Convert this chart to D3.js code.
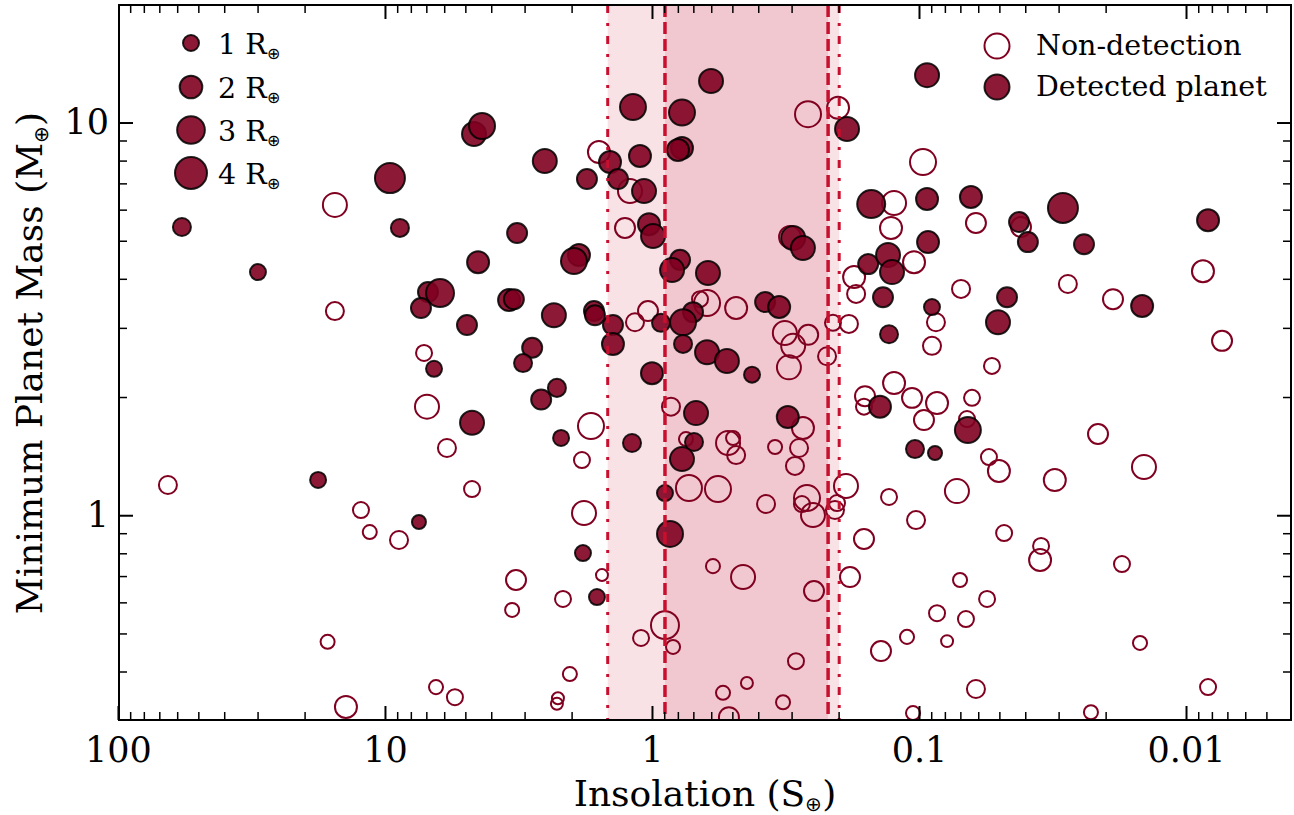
<!DOCTYPE html>
<html><head><meta charset="utf-8">
<script src="https://cdn.jsdelivr.net/npm/d3@7"></script>
<style>
body{margin:0;background:#fff}
svg{display:block}
text{font-family:"DejaVu Serif",serif;fill:#000}
</style>
</head><body>
<svg id="chart" width="1294" height="815"></svg>
<script>
// ---- data (insolation in S_earth, minimum mass in M_earth, radius in R_earth) ----
const detInsolation = [4.64,4.33,9.58,57.6,8.79,3.20,29.9,4.48,6.90,6.22,7.33,4.93,3.43,3.29,6.55,4.72,17.8,7.46,1.178,0.772,0.186,0.772,0.799,2.52,1.109,1.436,1.752,1.341,1.071,0.151,1.026,0.991,1.877,1.96,0.296,0.272,0.155,0.1306,0.1262,0.1364,0.785,0.841,0.617,2.33,1.649,1.635,0.702,0.377,0.334,1.40,0.925,0.765,1.40,2.81,3.04,0.765,0.622,0.524,0.422,1.0,2.27,2.60,0.1295,0.140,2.19,1.188,0.684,0.310,0.696,0.772,0.894,0.856,1.813,1.607,0.601,0.0933,0.0933,0.0639,0.0422,0.0391,0.0289,0.00827,0.0241,0.0925,0.0146,0.0468,0.0506,0.0894,0.0656,0.1035,0.0871];
const detMass = [9.35,9.80,7.22,5.42,5.39,5.23,4.16,4.41,3.70,3.68,3.37,3.05,3.53,3.55,2.36,1.72,1.23,0.961,10.95,10.6,9.63,8.61,8.51,7.98,8.22,7.93,7.18,7.18,6.69,6.20,5.51,5.14,4.60,4.44,5.08,4.79,4.36,4.60,4.16,3.59,4.47,4.21,4.14,3.23,3.31,3.23,3.29,3.49,3.39,3.05,3.09,3.10,2.73,2.67,2.44,2.73,2.60,2.47,2.28,2.30,2.11,1.97,2.89,1.89,1.573,1.527,1.82,1.778,1.536,1.39,1.139,0.896,0.801,0.619,12.76,13.2,6.39,6.46,5.58,4.96,6.06,5.64,4.90,4.96,3.41,3.59,3.10,3.39,1.648,1.474,1.44];
const detRadius = [2.25,2.64,3.52,1.27,1.27,1.56,1.0,1.89,1.56,3.06,1.56,1.56,1.89,1.56,1.0,2.25,1.0,0.77,2.64,2.64,2.25,1.89,1.89,2.25,1.89,1.89,1.56,1.56,2.25,3.06,1.89,2.25,1.89,2.64,2.25,2.25,1.56,2.25,2.25,1.56,1.56,2.25,2.25,2.25,1.56,1.56,1.56,1.56,1.89,1.56,1.27,2.64,1.89,1.56,1.27,1.27,2.25,2.25,1.0,1.89,1.27,1.56,1.27,1.89,1.0,1.27,2.25,1.89,1.27,2.25,1.0,2.64,1.0,1.0,2.25,2.25,1.89,1.89,1.56,1.56,3.52,1.89,1.56,1.89,1.89,1.56,2.25,1.0,2.64,1.27,0.77];

const ndInsolation = [15.4,15.4,7.14,6.96,65.0,5.86,4.72,12.3,11.4,8.86,3.23,3.34,16.4,6.44,5.47,14.0,0.2604,0.201,1.58,1.209,0.124,0.1273,1.262,0.304,0.175,0.172,0.661,0.622,0.484,1.035,1.158,0.318,0.296,0.260,0.307,0.210,0.183,0.221,1.692,1.829,0.849,0.272,0.746,0.519,0.497,0.484,0.346,0.2814,0.2914,0.727,0.566,0.374,0.2627,0.2744,0.2495,0.2064,0.2028,0.1877,0.1295,0.1593,0.1607,0.124,1.797,1.539,2.154,0.591,0.456,0.2473,0.1813,0.1607,0.894,1.099,0.834,0.2889,0.1388,2.03,2.25,2.27,0.542,0.441,0.323,0.515,0.0966,0.0612,0.0415,0.1044,0.00864,0.0696,0.0277,0.01877,0.0864,0.0894,0.00733,0.0533,0.1062,0.0856,0.0633,0.0958,0.0661,0.0547,0.0502,0.02136,0.01437,0.0310,0.0721,0.1026,0.0480,0.0349,0.0352,0.01737,0.0702,0.0556,0.0856,0.0667,0.1109,0.0785,0.01487,0.0612,0.00827,0.1053,0.0227];
const ndMass = [6.17,3.31,2.59,1.89,1.194,1.483,1.166,1.031,0.906,0.865,0.684,0.574,0.476,0.365,0.344,0.325,10.5,10.9,8.41,6.69,6.24,5.39,5.39,5.11,4.04,3.66,3.55,3.47,3.37,3.31,3.10,2.91,2.70,2.88,2.38,3.09,3.07,2.54,1.687,1.382,1.89,1.668,1.563,1.527,1.573,1.423,1.492,1.483,1.335,1.173,1.166,1.068,1.106,1.068,1.001,1.031,1.074,1.187,1.113,2.01,1.89,2.17,1.013,0.704,0.612,0.742,0.696,0.641,0.696,0.870,0.525,0.487,0.462,0.425,0.451,0.394,0.342,0.331,0.353,0.374,0.334,0.306,7.93,5.55,5.42,4.41,4.18,3.77,3.88,3.55,3.10,2.70,2.78,2.40,1.99,1.93,1.99,1.747,1.758,1.406,1.296,1.61,1.327,1.229,1.152,0.972,0.901,0.835,0.769,0.751,0.684,0.612,0.563,0.544,0.490,0.478,0.473,0.361,0.365,0.3135,0.315];
const ndRadius = [2.25,1.27,1.0,2.25,1.27,1.27,1.0,1.0,0.77,1.27,1.56,0.77,0.77,0.77,1.0,1.89,2.64,1.89,1.89,2.25,2.25,1.89,1.56,1.89,1.89,1.27,1.0,2.64,1.89,1.56,1.27,2.25,2.25,1.56,2.25,1.0,1.27,1.27,2.64,1.0,1.27,1.89,0.77,2.25,0.77,1.27,0.77,1.27,1.27,2.64,2.64,1.27,2.64,1.0,2.25,1.27,1.0,2.25,1.0,1.56,1.0,1.89,2.25,0.56,1.0,0.77,2.25,1.56,1.56,1.56,3.06,1.0,0.77,1.0,1.56,0.77,0.56,0.56,0.77,0.56,0.77,1.56,2.64,1.56,1.56,1.89,1.89,1.27,1.27,1.56,1.27,1.27,1.56,1.0,1.56,1.89,1.0,1.56,1.0,1.0,1.89,1.56,2.25,1.89,2.25,1.27,1.0,1.0,1.89,1.0,0.77,1.0,1.0,1.0,0.77,0.56,0.77,1.27,1.0,0.77,0.77];

const xTickValues = [100, 10, 1, 0.1, 0.01];
const xTickLabels = ["100", "10", "1", "0.1", "0.01"];
const yTickValues = [1, 10];
const yTickLabels = ["1", "10"];
const hzOptimistic = [1.465, 0.199];    // dash-dot limits
const hzConservative = [0.894, 0.219];  // dashed limits
const legendSizes = [1, 2, 3, 4];

// ---- layout ----
const svg = d3.select("#chart");
const L = 119, R = 1291, T = 5, B = 720;
const x = d3.scaleLog().domain([99.1, 0.004044]).range([L, R]);
const y = d3.scaleLog().domain([0.301, 19.92]).range([B, T]);
const rs = d3.scaleSqrt().domain([0, 4]).range([0, 16]);

const red = "#c8102e";
const wine = "#800020";

svg.append("defs").append("clipPath").attr("id", "clip")
  .append("rect").attr("x", L).attr("y", T).attr("width", R - L).attr("height", B - T);

// HZ shading
const plot = svg.append("g").attr("clip-path", "url(#clip)");
plot.append("rect").attr("x", x(hzOptimistic[0])).attr("y", T)
  .attr("width", x(hzOptimistic[1]) - x(hzOptimistic[0])).attr("height", B - T)
  .attr("fill", red).attr("fill-opacity", 0.12);
plot.append("rect").attr("x", x(hzConservative[0])).attr("y", T)
  .attr("width", x(hzConservative[1]) - x(hzConservative[0])).attr("height", B - T)
  .attr("fill", red).attr("fill-opacity", 0.12);

// points
const nd = ndInsolation.map((s, i) => ({s, m: ndMass[i], r: ndRadius[i]}));
const det = detInsolation.map((s, i) => ({s, m: detMass[i], r: detRadius[i]}));
plot.selectAll("circle.nd").data(nd).join("circle").attr("class", "nd")
  .attr("cx", d => x(d.s)).attr("cy", d => y(d.m)).attr("r", d => rs(d.r))
  .attr("fill", "none").attr("stroke", wine).attr("stroke-width", 2);
plot.selectAll("circle.det").data(det).join("circle").attr("class", "det")
  .attr("cx", d => x(d.s)).attr("cy", d => y(d.m)).attr("r", d => rs(d.r))
  .attr("fill", wine).attr("fill-opacity", 0.9)
  .attr("stroke", "#000").attr("stroke-opacity", 0.85).attr("stroke-width", 2);

// HZ lines
hzConservative.forEach(v => plot.append("line").attr("x1", x(v)).attr("x2", x(v)).attr("y1", T).attr("y2", B)
  .attr("stroke", red).attr("stroke-width", 3.5).attr("stroke-dasharray", "12,5"));
hzOptimistic.forEach(v => plot.append("line").attr("x1", x(v)).attr("x2", x(v)).attr("y1", T).attr("y2", B)
  .attr("stroke", red).attr("stroke-width", 3).attr("stroke-dasharray", "8,10,3,10"));

// ---- axes ----
function minorTicks(domain) {
  const lo = Math.min(...domain), hi = Math.max(...domain), out = [];
  for (let e = -4; e <= 3; e++) for (let k = 2; k <= 9; k++) {
    const v = k * Math.pow(10, e); if (v >= lo && v <= hi) out.push(v);
  }
  return out;
}
const fs = 35;
function styleAxis(g, w) {
  g.select(".domain").remove();
  g.selectAll(".tick line").attr("stroke", "#000").attr("stroke-width", w);
  g.selectAll("text").attr("font-family", "DejaVu Serif").attr("font-size", fs).attr("fill", "#000");
}
svg.append("g").attr("transform", `translate(0,${B})`)
  .call(d3.axisBottom(x).tickValues(xTickValues).tickSize(-14).tickPadding(17)
    .tickFormat((d, i) => xTickLabels[i])).call(g => styleAxis(g, 2));
svg.append("g").attr("transform", `translate(0,${B})`)
  .call(d3.axisBottom(x).tickValues(minorTicks(x.domain())).tickSize(-8).tickFormat(""))
  .call(g => styleAxis(g, 1.5));
svg.append("g").attr("transform", `translate(0,${T})`)
  .call(d3.axisTop(x).tickValues(xTickValues.filter(v => v < 99.1)).tickSize(-14).tickFormat(""))
  .call(g => styleAxis(g, 2));
svg.append("g").attr("transform", `translate(0,${T})`)
  .call(d3.axisTop(x).tickValues(minorTicks(x.domain())).tickSize(-8).tickFormat(""))
  .call(g => styleAxis(g, 1.5));
svg.append("g").attr("transform", `translate(${L},0)`)
  .call(d3.axisLeft(y).tickValues(yTickValues).tickSize(-14).tickPadding(10)
    .tickFormat((d, i) => yTickLabels[i])).call(g => styleAxis(g, 2));
svg.append("g").attr("transform", `translate(${L},0)`)
  .call(d3.axisLeft(y).tickValues(minorTicks(y.domain())).tickSize(-8).tickFormat(""))
  .call(g => styleAxis(g, 1.5));
svg.append("g").attr("transform", `translate(${R},0)`)
  .call(d3.axisRight(y).tickValues(yTickValues).tickSize(-14).tickFormat(""))
  .call(g => styleAxis(g, 2));
svg.append("g").attr("transform", `translate(${R},0)`)
  .call(d3.axisRight(y).tickValues(minorTicks(y.domain())).tickSize(-8).tickFormat(""))
  .call(g => styleAxis(g, 1.5));

svg.append("rect").attr("x", L).attr("y", T).attr("width", R - L).attr("height", B - T)
  .attr("fill", "none").attr("stroke", "#000").attr("stroke-width", 2);

// axis titles with ⊕ subscript
function labelWithSub(sel, main, sub, close, size, shift) {
  sel.append("tspan").text(main);
  sel.append("tspan").attr("font-family", "DejaVu Sans").attr("font-weight", 300)
    .attr("font-size", size * 0.55).attr("dy", shift).text(sub);
  if (close) sel.append("tspan").attr("dy", -shift).text(close);
}
const xl = svg.append("text").attr("x", 705).attr("y", 806).attr("text-anchor", "middle").attr("font-size", 36);
labelWithSub(xl, "Insolation (S", "⊕", ")", 36, 5);
const yl = svg.append("text").attr("transform", "translate(42,363) rotate(-90)").attr("text-anchor", "middle").attr("font-size", 36);
labelWithSub(yl, "Minimum Planet Mass (M", "⊕", ")", 36, 6);

// ---- legends ----
const lfs = 28.5;
const sizeLeg = svg.append("g");
const legY = [43, 87, 130, 173];
legendSizes.forEach((s, i) => {
  sizeLeg.append("circle").attr("cx", 191).attr("cy", legY[i]).attr("r", rs(s))
    .attr("fill", wine).attr("fill-opacity", 0.9).attr("stroke", "#000").attr("stroke-opacity", 0.85).attr("stroke-width", 2);
  const t = sizeLeg.append("text").attr("x", 218).attr("y", legY[i] + 11).attr("font-size", lfs);
  labelWithSub(t, s + " R", "⊕", "", lfs, 5);
});
const typeLeg = svg.append("g");
typeLeg.append("circle").attr("cx", 997).attr("cy", 46).attr("r", 12.5)
  .attr("fill", "none").attr("stroke", wine).attr("stroke-width", 2);
typeLeg.append("circle").attr("cx", 997).attr("cy", 87).attr("r", 12.5)
  .attr("fill", wine).attr("fill-opacity", 0.9).attr("stroke", "#000").attr("stroke-opacity", 0.85).attr("stroke-width", 2);
typeLeg.append("text").attr("x", 1036).attr("y", 55).attr("font-size", lfs).text("Non-detection");
typeLeg.append("text").attr("x", 1036).attr("y", 96).attr("font-size", lfs).text("Detected planet");
</script>
</body></html>
